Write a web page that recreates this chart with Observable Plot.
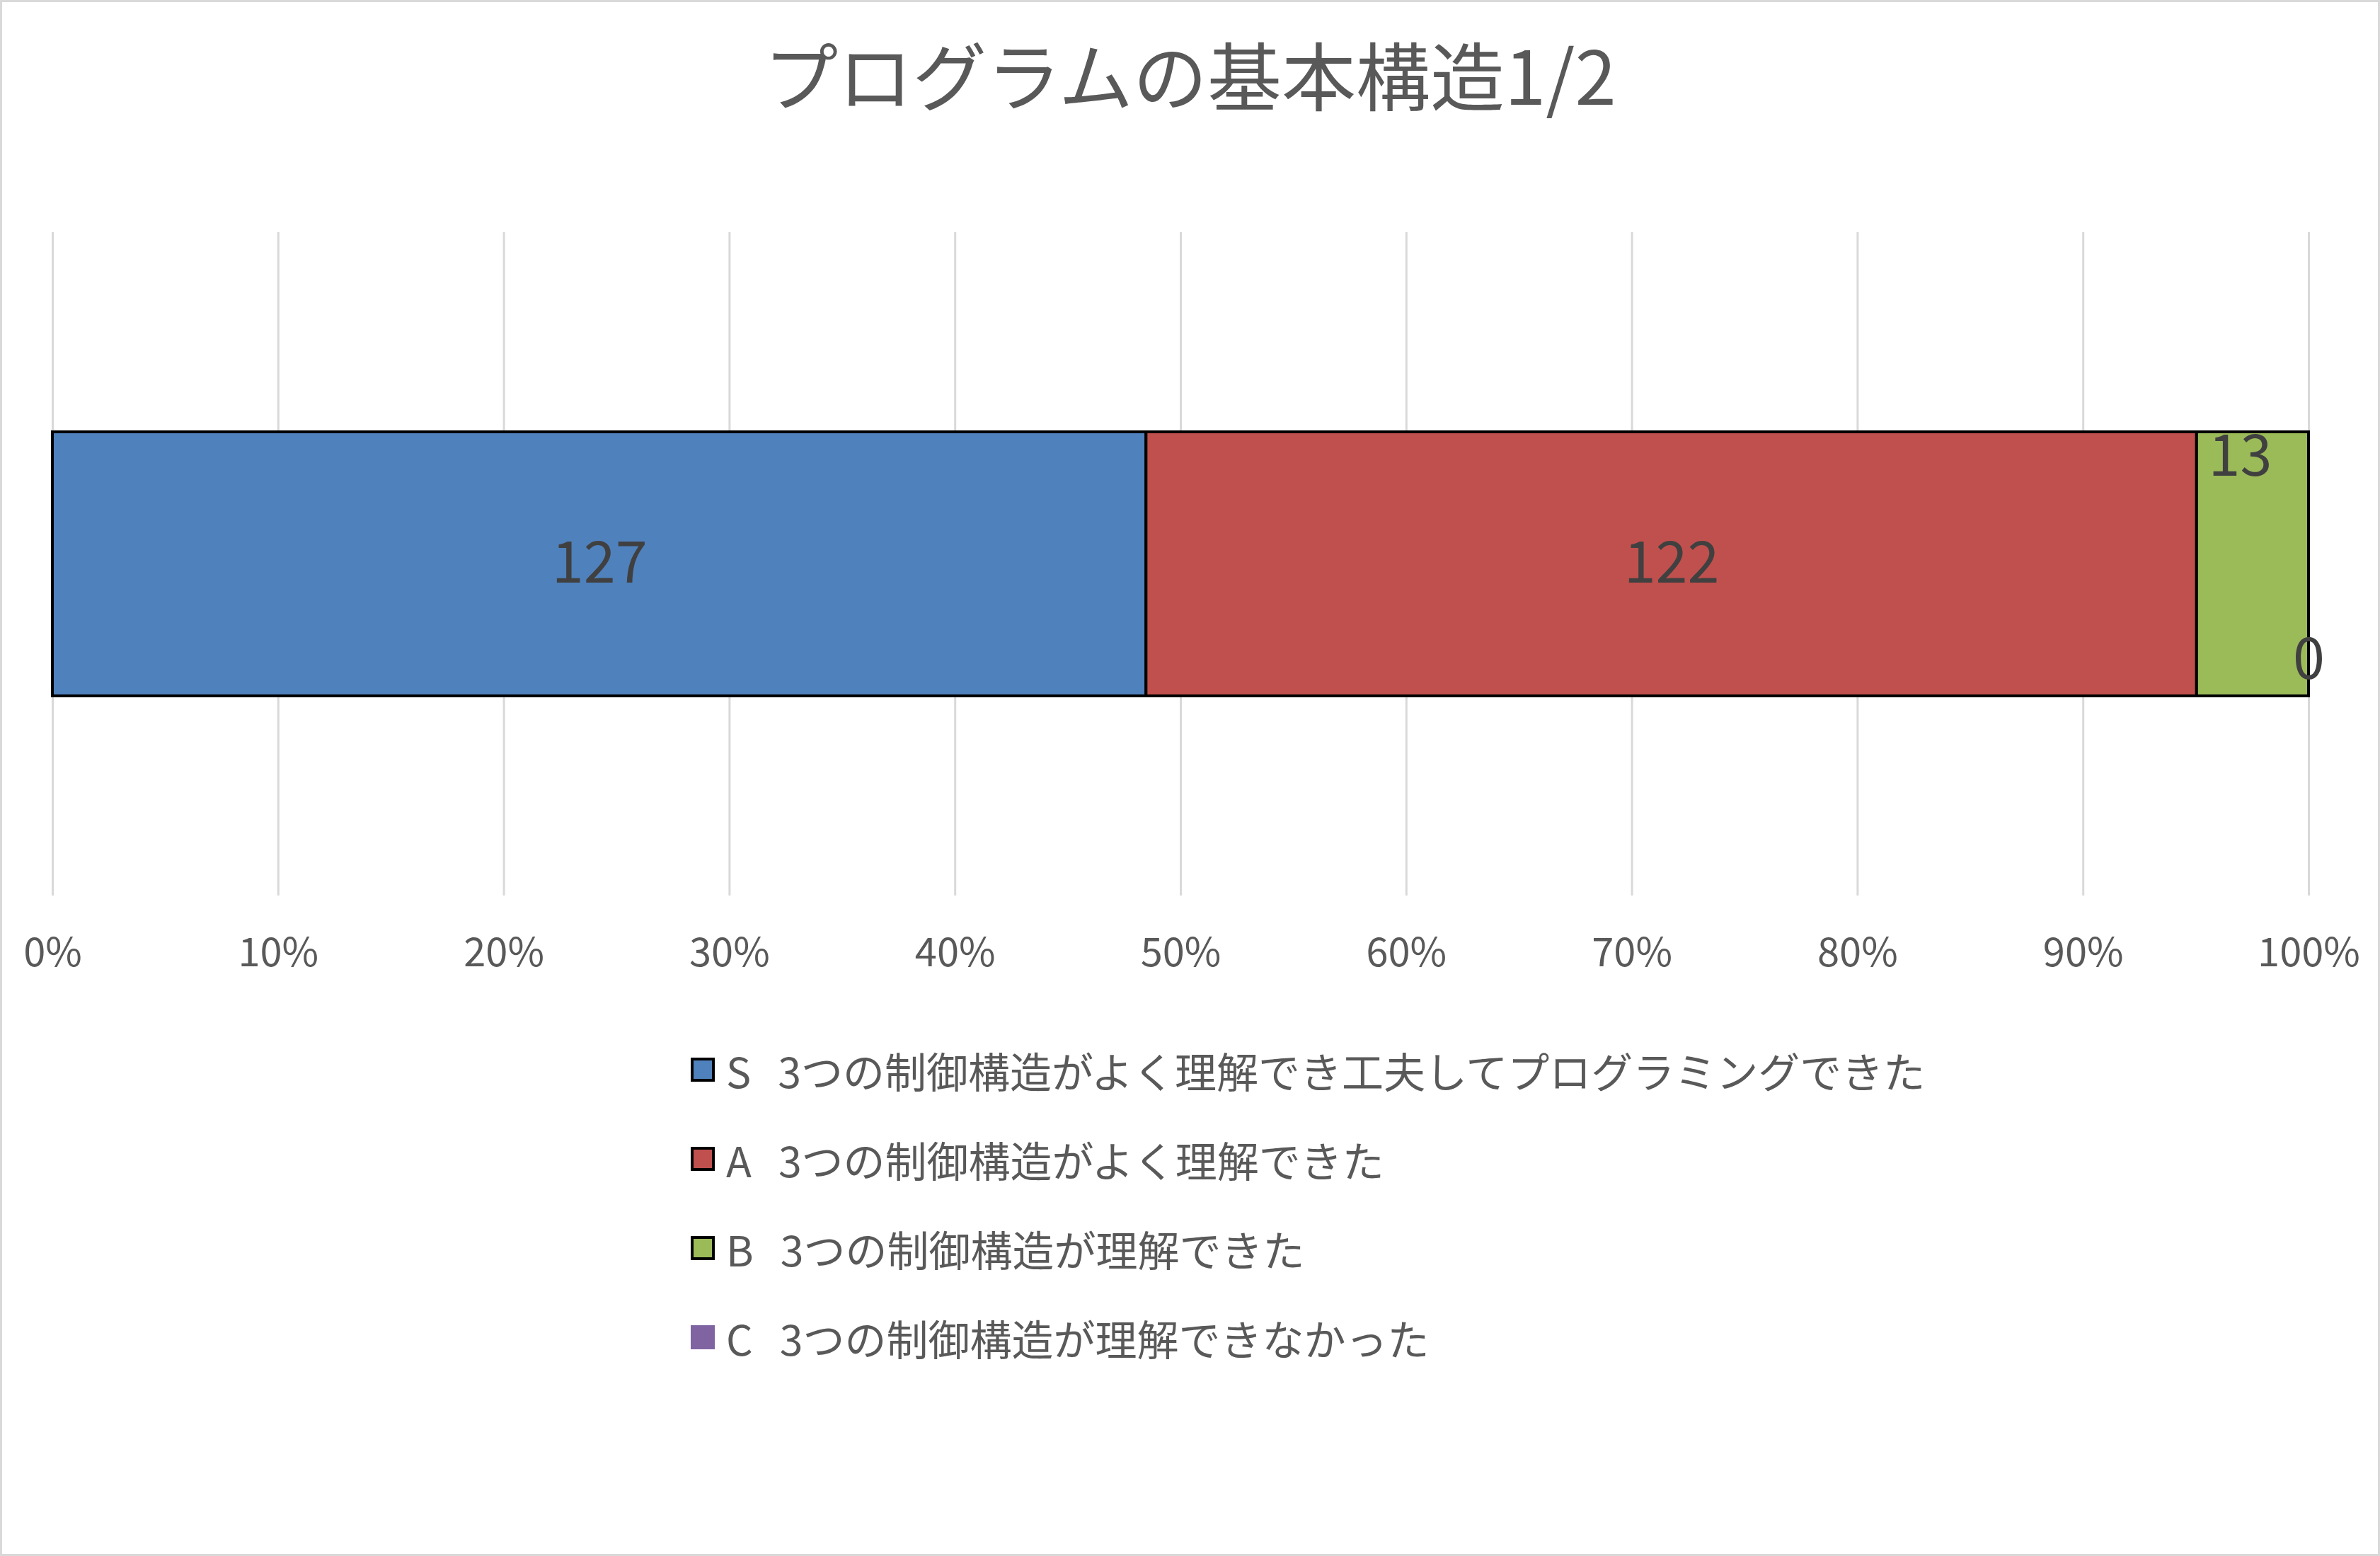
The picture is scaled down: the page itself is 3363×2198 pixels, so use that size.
<!DOCTYPE html>
<html><head><meta charset="utf-8">
<script src="https://cdn.jsdelivr.net/npm/d3@7"></script>
<script src="https://cdn.jsdelivr.net/npm/@observablehq/plot@0.6"></script>
<style>
html,body{margin:0;padding:0;background:#fff;}
#chart{position:relative;width:3363px;height:2198px;overflow:hidden;font-family:"Noto Sans CJK JP","Noto Sans",sans-serif;background:#fff;}
#frame{position:absolute;left:0;top:0;width:3363px;height:2198px;box-sizing:border-box;border:3px solid #d9d9d9;pointer-events:none;}
#title{position:absolute;left:0;width:3363px;top:50px;text-align:center;font-size:105px;line-height:1;color:#595959;white-space:pre;}
#plot{position:absolute;left:0;top:250px;}
#legend{position:absolute;left:976px;top:1448px;}
.row{display:flex;align-items:center;height:126px;}
.sw{width:34px;height:34px;box-sizing:border-box;margin-right:16px;flex:none;}
.lbl{font-size:59px;line-height:1;color:#595959;white-space:pre;}
.key{margin-right:38px;}
</style></head><body>
<div id="chart"><div id="title"></div><div id="plot"></div><div id="legend"></div><div id="frame"></div></div>
<script>
const title = "プログラムの基本構造1/2";
const seriesKeys = ["S", "A", "B", "C"];
const seriesNames = [
  "S　3つの制御構造がよく理解でき工夫してプログラミングできた",
  "A　3つの制御構造がよく理解できた",
  "B　3つの制御構造が理解できた",
  "C　3つの制御構造が理解できなかった"
];
const values = [127, 122, 13, 0];
const colors = ["#4F81BD", "#C0504D", "#9BBB59", "#8064A2"];
const tickValues = [0, 0.1, 0.2, 0.3, 0.4, 0.5, 0.6, 0.7, 0.8, 0.9, 1];

const data = seriesKeys.map((k, i) => ({key: k, name: seriesNames[i], value: values[i], row: "r"}));

document.getElementById("title").textContent = title;

const stackOpts = (extra) => Plot.stackX({x: "value", y: "row", offset: "normalize", order: null, ...extra});

const chart = Plot.plot({
  width: 3363,
  height: 1135,
  marginLeft: 74,
  marginRight: 101,
  marginTop: 78,
  marginBottom: 120,
  style: {background: "transparent", fontFamily: "'Noto Sans CJK JP','Noto Sans',sans-serif", fontSize: "56px", color: "#595959", overflow: "visible"},
  x: {domain: [0, 1], ticks: tickValues, tickFormat: d3.format(".0%"), tickSize: 0, tickPadding: 60, label: null},
  y: {domain: ["r"], axis: null, padding: 0.43},
  color: {domain: seriesKeys, range: colors},
  marks: [
    Plot.ruleX(tickValues, {stroke: "#d9d9d9", strokeWidth: 3}),
    Plot.barX(data, stackOpts({fill: "key", stroke: "#000", strokeWidth: 4})),
    Plot.text(data, stackOpts({text: d => (d.key === "S" || d.key === "A") ? String(d.value) : null, fontSize: 81, fill: "#404040"})),
    Plot.text(data, stackOpts({text: d => d.key === "B" ? String(d.value) : null, fontSize: 81, fill: "#404040", dy: -151, dx: -18})),
    Plot.text(data, stackOpts({text: d => d.key === "C" ? String(d.value) : null, fontSize: 81, fill: "#404040", dy: 136}))
  ]
});
document.getElementById("plot").appendChild(chart);

const legend = document.getElementById("legend");
data.forEach((d, i) => {
  const parts = d.name.split("　");
  const row = document.createElement("div");
  row.className = "row";
  const sw = document.createElement("div");
  sw.className = "sw";
  sw.style.background = colors[i];
  if (d.value > 0) sw.style.border = "4px solid #000";
  const key = document.createElement("span");
  key.className = "lbl key";
  key.textContent = parts[0];
  const rest = document.createElement("span");
  rest.className = "lbl";
  rest.textContent = parts.slice(1).join("　");
  row.appendChild(sw);
  row.appendChild(key);
  row.appendChild(rest);
  legend.appendChild(row);
});
</script>
</body></html>
